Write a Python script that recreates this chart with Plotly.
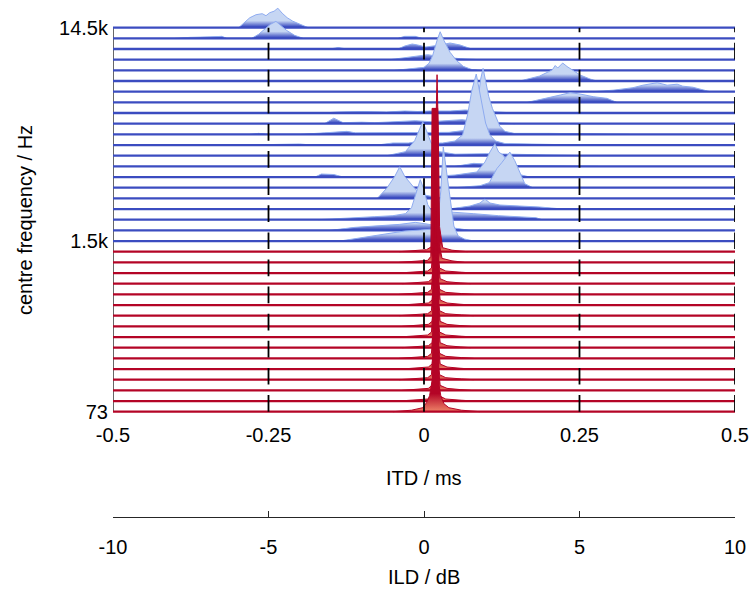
import plotly.graph_objects as go

# ---------------- data ----------------
N_CHANNELS = 37            # gammatone channels, index 0 = lowest centre frequency
N_LOW = 16                 # channels 0..15 (red), 16..36 (blue)
FREQ_TICKS = [0, 16, 36]
FREQ_LABELS = ['73', '1.5k', '14.5k']

ITD_RANGE = [-0.5, 0.5]
ITD_TICKS = [-0.5, -0.25, 0, 0.25, 0.5]
ITD_LABELS = ['-0.5', '-0.25', '0', '0.25', '0.5']
ILD_RANGE = [-10, 10]
ILD_TICKS = [-10, -5, 0, 5, 10]
ILD_LABELS = ['-10', '-5', '0', '5', '10']
GRID_ITD = [-0.25, 0, 0.25, 0.5]

# ridge profiles: (ITD / ms, density in arbitrary units)
ch36 = [(-0.298, 0), (-0.288, 6), (-0.280, 10), (-0.270, 13), (-0.260, 14), (-0.254, 12), (-0.248, 15),
        (-0.241, 16.5), (-0.235, 19.5), (-0.228, 14.5), (-0.220, 10), (-0.211, 6.5), (-0.199, 3), (-0.186, 0)]
ch35 = [(-0.400, 0), (-0.376, 1), (-0.344, 1.5), (-0.325, 2), (-0.317, 0), (-0.277, 0), (-0.266, 4),
        (-0.256, 9), (-0.247, 14), (-0.238, 17), (-0.231, 13), (-0.221, 8), (-0.208, 3), (-0.194, 0),
        (-0.042, 0), (-0.031, 2), (-0.014, 2), (-0.003, 0)]
ch34 = [(-0.151, 0), (-0.138, 1.5), (-0.124, 0), (-0.042, 0), (-0.031, 3), (-0.019, 5), (-0.010, 4),
        (0.003, 2), (0.026, 4), (0.042, 6), (0.058, 4), (0.077, 0)]
ch33 = [(-0.055, 0), (-0.031, 2), (-0.010, 4), (0.006, 5), (0.026, 3), (0.058, 1), (0.090, 0)]
ch32 = [(-0.047, 0), (-0.023, 1.5), (0.000, 3), (0.008, 7), (0.014, 15), (0.021, 30), (0.026, 38.6),
        (0.032, 30), (0.042, 18), (0.052, 10), (0.063, 4), (0.076, 1), (0.090, 0)]
ch31 = [(0.154, 0), (0.186, 5), (0.206, 11), (0.211, 15.5), (0.215, 13), (0.223, 18), (0.230, 14.5),
        (0.238, 11), (0.251, 6), (0.267, 2), (0.278, 0)]
ch30 = [(0.272, 0), (0.304, 1.5), (0.336, 4), (0.352, 6.5), (0.375, 9), (0.391, 6.5), (0.407, 7.5),
        (0.416, 5.5), (0.432, 4.5), (0.460, 0)]
ch29 = [(0.166, 0), (0.198, 4), (0.219, 7.3), (0.235, 9.7), (0.251, 8.3), (0.272, 5.7), (0.294, 4), (0.310, 0)]
ch28 = [(-0.162, 0), (-0.140, 1), (-0.100, 1.5), (-0.060, 1), (-0.031, 2), (-0.010, 1.5), (0.010, 2),
        (0.042, 2), (0.066, 3), (0.090, 2), (0.120, 1), (0.146, 0)]
ch27 = [(-0.160, 0), (-0.145, 5.5), (-0.130, 1), (-0.100, 1.5), (-0.079, 1), (-0.047, 2), (-0.014, 3),
        (0.010, 2), (0.042, 3), (0.061, 4), (0.090, 2), (0.122, 1), (0.146, 0)]
ch26 = [(-0.280, 0), (-0.266, 1), (-0.251, 0), (-0.199, 0), (-0.160, 1.5), (-0.124, 3), (-0.110, 1.5),
        (-0.060, 1.5), (0.000, 2), (0.040, 2), (0.066, 4), (0.080, 10), (0.087, 35), (0.091, 55),
        (0.095, 66), (0.099, 52), (0.104, 38), (0.110, 26), (0.116, 16), (0.122, 8), (0.130, 3),
        (0.145, 1), (0.200, 1), (0.250, 0.5), (0.330, 0)]
ch25 = [(-0.290, 0), (-0.200, 1), (-0.180, 0), (-0.075, 0), (-0.050, 2), (-0.025, 2), (-0.015, 3),
        (0.000, 2), (0.030, 2), (0.050, 4), (0.062, 10), (0.070, 30), (0.077, 55), (0.084, 71),
        (0.088, 58), (0.093, 40), (0.099, 22), (0.106, 10), (0.115, 4), (0.130, 1.5), (0.200, 0.5), (0.250, 0)]
ch24 = [(-0.060, 0), (-0.030, 4), (-0.015, 15), (-0.008, 25), (-0.002, 34), (0.004, 25), (0.012, 12),
        (0.025, 4), (0.050, 1.5), (0.100, 2), (0.150, 1.5), (0.200, 1), (0.260, 0)]
ch23 = [(0.050, 0), (0.066, 2), (0.080, 3), (0.095, 2.5), (0.110, 1), (0.200, 0.5), (0.280, 0)]
ch22 = [(-0.175, 0), (-0.165, 3), (-0.145, 2.5), (-0.130, 0), (0.000, 0), (0.050, 2), (0.085, 5),
        (0.098, 15), (0.106, 25), (0.114, 33.4), (0.120, 25), (0.127, 22), (0.138, 12), (0.150, 3), (0.170, 0)]
ch21 = [(0.050, 0), (0.090, 2), (0.105, 5), (0.117, 19), (0.125, 25), (0.138, 35.6), (0.146, 27),
        (0.154, 15), (0.162, 4), (0.175, 0)]
ch20 = [(-0.075, 0), (-0.060, 10), (-0.047, 22), (-0.039, 31.6), (-0.031, 22), (-0.023, 16),
        (-0.015, 10), (-0.005, 4), (0.020, 1), (0.050, 0)]
ch19 = [(0.040, 0), (0.074, 3), (0.090, 6), (0.098, 10), (0.106, 6), (0.122, 4), (0.154, 3), (0.186, 2), (0.223, 0)]
ch18 = [(-0.170, 0), (-0.120, 2), (-0.080, 3), (-0.050, 4), (-0.030, 6), (-0.020, 12), (-0.012, 28),
        (-0.006, 40), (0.000, 30), (0.006, 15), (0.012, 9), (0.040, 8), (0.080, 6), (0.120, 4),
        (0.180, 2), (0.190, 0)]
ch17 = [(-0.151, 0), (-0.127, 2), (-0.111, 3), (-0.087, 4), (-0.063, 5), (-0.039, 6), (-0.014, 8),
        (0.010, 6), (0.034, 4), (0.058, 2), (0.074, 0)]
ch16 = [(-0.135, 0), (-0.103, 3), (-0.079, 5), (-0.055, 8), (-0.031, 10), (-0.006, 11), (0.016, 12),
        (0.022, 20), (0.027, 50), (0.031, 94), (0.036, 70), (0.042, 40), (0.048, 15), (0.055, 5),
        (0.065, 2), (0.080, 0)]
ch15 = [(-0.040, 0), (-0.015, 1), (0.004, 2), (0.012, 5), (0.016, 30), (0.019, 120), (0.021, 177),
        (0.023, 120), (0.025, 25), (0.030, 4), (0.045, 1.5), (0.070, 0)]
ch14 = [(-0.040, 0), (-0.015, 1), (0.006, 2), (0.011, 6), (0.013, 154), (0.022, 154), (0.024, 20),
        (0.029, 4), (0.045, 1.5), (0.065, 0)]
ch13 = [(-0.040, 0), (-0.015, 1), (0.006, 2), (0.012, 5), (0.015, 30), (0.018, 135), (0.021, 30),
        (0.025, 5), (0.035, 2), (0.060, 0.8), (0.080, 0)]
ch12 = [(-0.035, 0), (-0.012, 1), (0.007, 2), (0.013, 5), (0.016, 30), (0.019, 125), (0.022, 30),
        (0.026, 5), (0.037, 2), (0.058, 0.8), (0.075, 0)]
ch11 = [(-0.040, 0), (-0.015, 1), (0.006, 2), (0.012, 5), (0.015, 30), (0.018, 130), (0.021, 30),
        (0.025, 5), (0.035, 2), (0.060, 0.8), (0.080, 0)]
ch10 = [(-0.035, 0), (-0.012, 1), (0.007, 2), (0.013, 5), (0.016, 30), (0.019, 120), (0.022, 30),
        (0.026, 5), (0.037, 2), (0.058, 0.8), (0.075, 0)]
ch09 = [(-0.040, 0), (-0.015, 1), (0.006, 2), (0.012, 5), (0.015, 30), (0.018, 125), (0.021, 30),
        (0.025, 5), (0.035, 2), (0.060, 0.8), (0.080, 0)]
ch08 = [(-0.035, 0), (-0.012, 1), (0.007, 2), (0.013, 5), (0.016, 30), (0.019, 115), (0.022, 30),
        (0.026, 5), (0.037, 2), (0.058, 0.8), (0.075, 0)]
ch07 = [(-0.040, 0), (-0.015, 1), (0.006, 2), (0.012, 5), (0.015, 30), (0.018, 120), (0.021, 30),
        (0.025, 5), (0.035, 2), (0.060, 0.8), (0.080, 0)]
ch06 = [(-0.035, 0), (-0.012, 1), (0.007, 2), (0.013, 5), (0.016, 30), (0.019, 110), (0.022, 30),
        (0.026, 5), (0.037, 2), (0.058, 0.8), (0.075, 0)]
ch05 = [(-0.040, 0), (-0.015, 1), (0.006, 2), (0.012, 5), (0.015, 30), (0.018, 115), (0.021, 30),
        (0.025, 5), (0.035, 2), (0.060, 0.8), (0.080, 0)]
ch04 = [(-0.035, 0), (-0.012, 1), (0.007, 2), (0.013, 5), (0.016, 30), (0.019, 105), (0.022, 30),
        (0.026, 5), (0.037, 2), (0.058, 0.8), (0.075, 0)]
ch03 = [(-0.040, 0), (-0.015, 1), (0.006, 2), (0.012, 5), (0.015, 30), (0.018, 110), (0.021, 30),
        (0.025, 5), (0.035, 2), (0.060, 0.8), (0.080, 0)]
ch02 = [(-0.035, 0), (-0.012, 1), (0.007, 2), (0.013, 5), (0.016, 30), (0.019, 100), (0.022, 30),
        (0.026, 5), (0.037, 2), (0.058, 0.8), (0.075, 0)]
ch01 = [(-0.040, 0), (-0.015, 1), (0.006, 2), (0.012, 5), (0.015, 30), (0.018, 105), (0.021, 30),
        (0.025, 5), (0.035, 2), (0.060, 0.8), (0.080, 0)]
ch00 = [(-0.050, 0), (-0.020, 1.5), (-0.002, 4), (0.004, 9), (0.009, 16), (0.014, 35), (0.018, 110),
        (0.022, 35), (0.027, 16), (0.032, 8), (0.040, 4), (0.060, 1.5), (0.090, 0)]

PROFILES = [ch00, ch01, ch02, ch03, ch04, ch05, ch06, ch07, ch08, ch09, ch10, ch11, ch12,
            ch13, ch14, ch15, ch16, ch17, ch18, ch19, ch20, ch21, ch22, ch23, ch24, ch25,
            ch26, ch27, ch28, ch29, ch30, ch31, ch32, ch33, ch34, ch35, ch36]

DENSITY_PER_ROW = 10.667   # density units spanning one channel spacing

# ---------------- styling ----------------
BLUE_LINE = '#3b4cc0'
BLUE_EDGE = '#8eabf0'
BLUE_SCALE = [[0, '#3b4cc0'], [1, '#c6d6f3']]
RED_LINE = '#b40426'
RED_SCALE = [[0, '#ee8468'], [1, '#b40426']]
FONT = 'Liberation Sans, Arial, sans-serif'

fig = go.Figure()
for c in range(N_CHANNELS - 1, -1, -1):          # top row first, lower rows overlap it
    prof = PROFILES[c]
    xs = [p[0] for p in prof]
    ys = [c + p[1] / DENSITY_PER_ROW for p in prof]
    low = c < N_LOW
    if low:
        grad = dict(type='vertical', colorscale=RED_SCALE, start=c, stop=c + 0.9 + (0.8 if c == 0 else 0))
        edge, base = RED_LINE, RED_LINE
    else:
        grad = dict(type='vertical', colorscale=BLUE_SCALE, start=c + 0.08, stop=c + 0.65)
        edge, base = BLUE_EDGE, BLUE_LINE
    fig.add_trace(go.Scatter(x=xs, y=ys, mode='lines', fill='toself', fillgradient=grad,
                             line=dict(color=edge, width=1), hoverinfo='skip', showlegend=False))
    fig.add_trace(go.Scatter(x=ITD_RANGE, y=[c, c], mode='lines',
                             line=dict(color=base, width=2.3), hoverinfo='skip', showlegend=False))

# invisible trace so the ILD axis is drawn
fig.add_trace(go.Scatter(x=ILD_RANGE, y=[0, 0], xaxis='x2', yaxis='y', mode='markers',
                         marker=dict(opacity=0), hoverinfo='skip', showlegend=False))

# dashed guide lines and left frame line
for g in GRID_ITD:
    fig.add_shape(type='line', x0=g, x1=g, y0=0, y1=N_CHANNELS - 1, xref='x', yref='y', layer='above',
                  line=dict(color='black', width=1.8, dash='16.7px,10.4px'))
fig.add_shape(type='line', x0=ITD_RANGE[0], x1=ITD_RANGE[0], y0=0, y1=N_CHANNELS - 1, xref='x', yref='y',
              layer='below', line=dict(color='black', width=1.2))

W, H = 749, 590
ML, MR, MT, MB = 113, 14, 0, 73
paper_h = H - MT - MB
row_px = 10.667
y_lo = -0.3
plot_bottom_px = 411.7 + 0.3 * row_px
y_dom0 = (paper_h - plot_bottom_px) / paper_h
y_hi = y_lo + plot_bottom_px / row_px

fig.update_layout(
    width=W, height=H, margin=dict(l=ML, r=MR, t=MT, b=MB),
    paper_bgcolor='white', plot_bgcolor='white',
    font=dict(family=FONT, size=20, color='black'),
    xaxis=dict(range=ITD_RANGE, domain=[0, 1], tickvals=ITD_TICKS, ticktext=ITD_LABELS,
               showgrid=False, zeroline=False, showline=False, ticks='', ticklabelstandoff=6,
               anchor='y'),
    xaxis2=dict(range=ILD_RANGE, domain=[0, 1], overlaying='x', anchor='free', position=0, side='bottom',
                tickvals=ILD_TICKS, ticktext=ILD_LABELS, showgrid=False, zeroline=False,
                showline=True, linecolor='#262626', linewidth=1.3, ticks='inside', ticklen=6,
                tickcolor='#262626', tickwidth=1.3, ticklabelstandoff=12),
    yaxis=dict(range=[y_lo, y_hi], domain=[y_dom0, 1], tickvals=FREQ_TICKS, ticktext=FREQ_LABELS,
               showgrid=False, zeroline=False, showline=False, ticks='', ticklabelstandoff=4),
    annotations=[
        dict(text='ITD / ms', xref='paper', yref='paper', x=0.5, y=(paper_h - 478) / paper_h,
             showarrow=False, xanchor='center', yanchor='middle', font=dict(size=20)),
        dict(text='ILD / dB', xref='paper', yref='paper', x=0.5, y=(paper_h - 577) / paper_h,
             showarrow=False, xanchor='center', yanchor='middle', font=dict(size=20)),
        dict(text='centre frequency / Hz', xref='paper', yref='paper', x=(25 - ML) / (W - ML - MR),
             y=(paper_h - 220) / paper_h, textangle=-90, showarrow=False,
             xanchor='center', yanchor='middle', font=dict(size=20)),
    ],
)

fig.write_html('out.html')
